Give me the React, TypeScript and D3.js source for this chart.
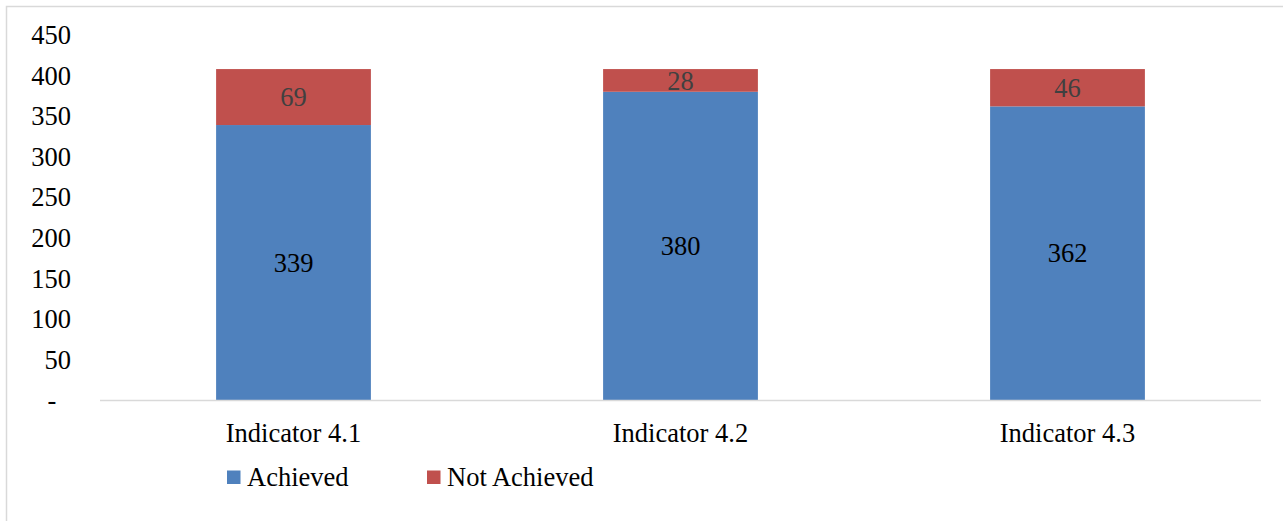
import React from "react";
import * as d3 from "d3";

const categories = ["Indicator 4.1", "Indicator 4.2", "Indicator 4.3"];
const achieved = [339, 380, 362];
const notAchieved = [69, 28, 46];
const yTicks = [0, 50, 100, 150, 200, 250, 300, 350, 400, 450];
const seriesNames = ["Achieved", "Not Achieved"];
const colors = ["#4f81bd", "#c0504d"];

const ts: React.CSSProperties = { fontFamily: "Liberation Serif", fontSize: "26.5px" };

export default function App() {
  const W = 1283, H = 521;
  const x0 = 100, x1 = 1261;
  const y = d3.scaleLinear().domain([0, 450]).range([400, 35]);
  const x = d3.scaleBand<string>().domain(categories).range([x0, x1]).paddingInner(0.6).paddingOuter(0.3);
  return (
    <svg width={W} height={H} style={{ position: "absolute", left: 0, top: 0 }}>
      <rect x={0} y={0} width={W} height={H} fill="#fff" />
      <rect x={6.5} y={6.5} width={W + 10} height={H + 10} fill="none" stroke="#d9d9d9" strokeWidth={1.5} />
      {yTicks.map((t) => (
        <text key={t} x={t === 0 ? 52 : 71} y={y(t)} dy="0.35em" textAnchor={t === 0 ? "middle" : "end"} style={ts} fill="#000">
          {t === 0 ? "-" : t}
        </text>
      ))}
      {categories.map((c, i) => {
        const bx = x(c)!;
        const bw = x.bandwidth();
        const a = achieved[i], n = notAchieved[i];
        return (
          <g key={c}>
            <rect x={bx} y={y(a)} width={bw} height={y(0) - y(a)} fill={colors[0]} />
            <rect x={bx} y={y(a + n)} width={bw} height={y(a) - y(a + n)} fill={colors[1]} />
            <text x={bx + bw / 2} y={y(a / 2)} dy="0.35em" textAnchor="middle" style={ts} fill="#000">{a}</text>
            <text x={bx + bw / 2} y={y(a + n / 2)} dy="0.35em" textAnchor="middle" style={ts} fill="#404040">{n}</text>
            <text x={bx + bw / 2} y={433} dy="0.35em" textAnchor="middle" style={ts} fill="#000">{c}</text>
          </g>
        );
      })}
      <line x1={x0} x2={x1} y1={400.5} y2={400.5} stroke="#d9d9d9" strokeWidth={1.5} />
      {seriesNames.map((s, i) => {
        const lx = i === 0 ? 227 : 427;
        return (
          <g key={s}>
            <rect x={lx} y={470.5} width={13.5} height={13.5} fill={colors[i]} />
            <text x={lx + 20} y={477} dy="0.35em" style={ts} fill="#000">{s}</text>
          </g>
        );
      })}
    </svg>
  );
}
